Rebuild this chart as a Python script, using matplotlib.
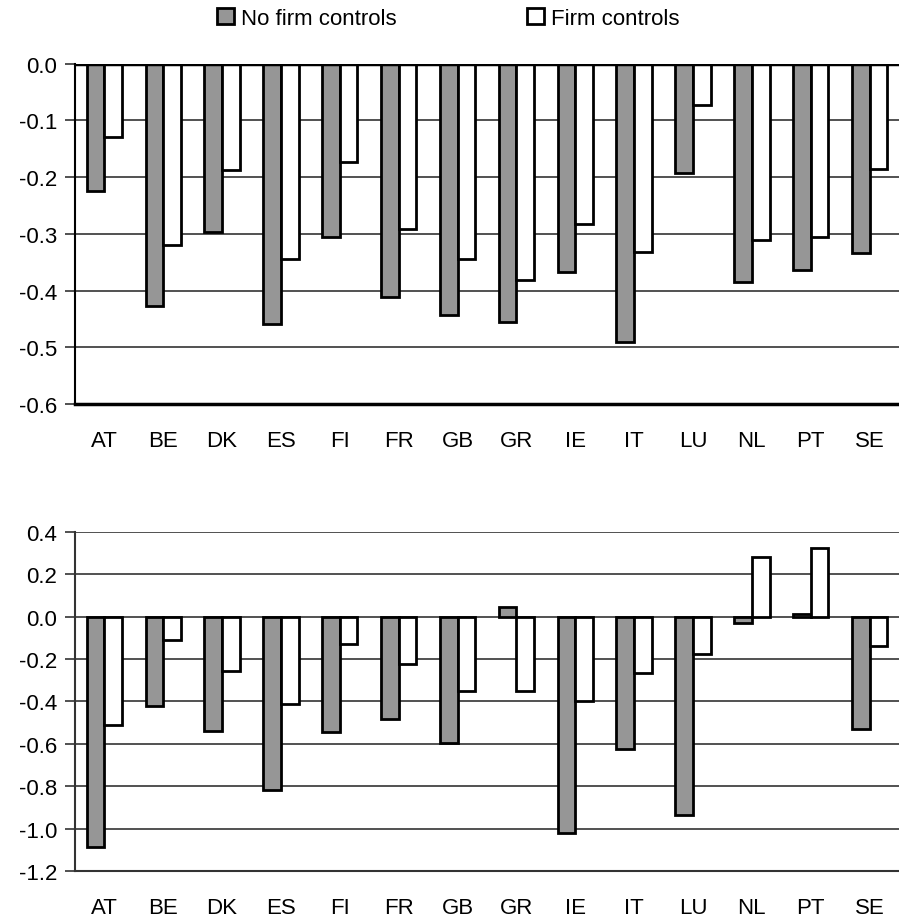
import numpy as np
import matplotlib
matplotlib.use('Agg')
from matplotlib import pyplot as plt
from matplotlib.patches import Patch

plt.rcParams['font.family'] = ['Liberation Sans', 'DejaVu Sans']

countries = ['AT', 'BE', 'DK', 'ES', 'FI', 'FR', 'GB', 'GR', 'IE', 'IT', 'LU', 'NL', 'PT', 'SE']

# upper panel
top_no_firm = [-0.225, -0.428, -0.296, -0.459, -0.305, -0.412, -0.443, -0.455,
               -0.367, -0.490, -0.192, -0.385, -0.364, -0.334]
top_firm = [-0.130, -0.320, -0.187, -0.345, -0.174, -0.291, -0.344, -0.382,
            -0.283, -0.332, -0.073, -0.311, -0.305, -0.185]

# lower panel
bot_no_firm = [-1.087, -0.420, -0.538, -0.820, -0.545, -0.482, -0.595, 0.047,
               -1.020, -0.627, -0.936, -0.031, 0.013, -0.532]
bot_firm = [-0.512, -0.113, -0.258, -0.414, -0.129, -0.223, -0.352, -0.352,
            -0.400, -0.265, -0.176, 0.280, 0.322, -0.137]

top_ticks = [-0.6, -0.5, -0.4, -0.3, -0.2, -0.1, 0.0]
bot_ticks = [-1.2, -1.0, -0.8, -0.6, -0.4, -0.2, 0.0, 0.2, 0.4]

gray = '#969696'
w = 0.3
x = np.arange(len(countries))

fig = plt.figure(figsize=(8.99, 9.2), dpi=100)
ax1 = fig.add_axes([0.0834, 0.5598, 0.9166, 0.3699])
ax2 = fig.add_axes([0.0834, 0.0522, 0.9166, 0.3688])


def draw(ax, a, b, ticks):
    ax.bar(x - w / 2, a, w, color=gray, edgecolor='black', linewidth=2.0, zorder=3)
    ax.bar(x + w / 2, b, w, color='white', edgecolor='black', linewidth=2.0, zorder=3)
    ax.set_xlim(-0.5, len(countries) - 0.5)
    ax.set_ylim(ticks[0], ticks[-1])
    ax.set_yticks(ticks)
    ax.set_yticklabels(['%.1f' % t for t in ticks], fontsize=16)
    ax.set_xticks(x)
    ax.set_xticklabels(countries, fontsize=16)
    ax.tick_params(axis='x', length=0, pad=19)
    ax.tick_params(axis='y', length=7, width=1.2, pad=6, color='#333333')
    ax.spines['right'].set_visible(False)
    ax.spines['top'].set_visible(False)
    ax.spines['left'].set_linewidth(1.5)
    for t in ticks:
        ax.axhline(t, color='#333333', linewidth=1.2, zorder=1)


draw(ax1, top_no_firm, top_firm, top_ticks)
ax1.axhline(0.0, color='black', linewidth=2.5, zorder=4)
ax1.spines['bottom'].set_linewidth(2.5)
ax1.spines['left'].set_color('black')

draw(ax2, bot_no_firm, bot_firm, bot_ticks)
ax2.spines['bottom'].set_linewidth(1.5)
ax2.spines['bottom'].set_color('#333333')
ax2.spines['left'].set_color('#333333')

handles = [Patch(facecolor=gray, edgecolor='black', linewidth=2.0, label='No firm controls'),
           Patch(facecolor='white', edgecolor='black', linewidth=2.0, label='Firm controls')]
fig.legend(handles=handles, loc='center', bbox_to_anchor=(0.4985, 0.979), ncol=2, frameon=False,
           fontsize=16, handlelength=0.75, handleheight=0.75, handletextpad=0.3, columnspacing=5.9)

plt.savefig('out.png', dpi=100)
